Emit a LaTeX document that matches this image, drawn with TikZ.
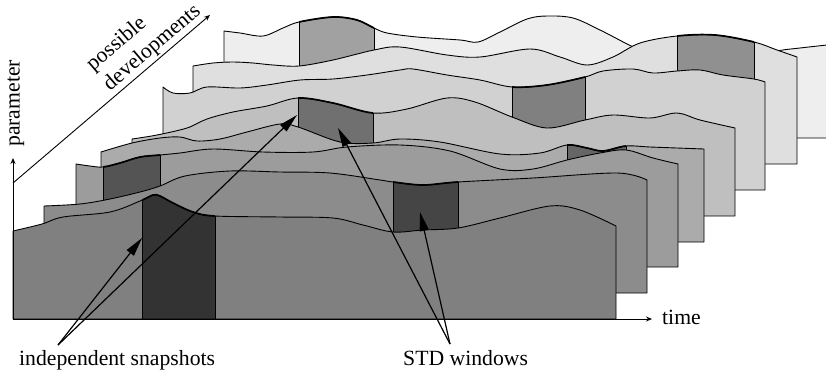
\documentclass[tikz,border=0pt]{standalone}
\usepackage{fontspec}
\setmainfont{Liberation Serif}
\usetikzlibrary{arrows.meta}
\definecolor{lay0}{gray}{0.50}
\definecolor{lay1}{gray}{0.55}
\definecolor{lay2}{gray}{0.61}
\definecolor{lay3}{gray}{0.67}
\definecolor{lay4}{gray}{0.75}
\definecolor{lay5}{gray}{0.82}
\definecolor{lay6}{gray}{0.875}
\definecolor{lay7}{gray}{0.935}
\definecolor{win0}{gray}{0.20}
\definecolor{win1}{gray}{0.27}
\definecolor{win2}{gray}{0.33}
\definecolor{win3}{gray}{0.40}
\definecolor{win4}{gray}{0.44}
\definecolor{win5}{gray}{0.50}
\definecolor{win6}{gray}{0.565}
\definecolor{win7}{gray}{0.63}
\newcommand{\drawlayer}[8]{%
  \fill[#5] plot[smooth,tension=0.55] coordinates {#1} -- (#2,#3) -- (#4,#3) -- cycle;
  \begin{scope}
    \clip plot[smooth,tension=0.55] coordinates {#1} -- (#2,#3) -- (#4,#3) -- cycle;
    \fill[#8] (#6,0) rectangle (#7,400);
    \draw[lyredge] (#6,0) -- (#6,400) (#7,0) -- (#7,400);
  \end{scope}
  \draw[lyredge] plot[smooth,tension=0.55] coordinates {#1} -- (#2,#3) -- (#4,#3) -- cycle;
  \begin{scope}
    \clip (#6,-10) rectangle (#7,400);
    \draw[wintop] plot[smooth,tension=0.55] coordinates {#1};
  \end{scope}
}
\begin{document}
\begin{tikzpicture}[x=1pt,y=-1pt,
  lyredge/.style={draw=black,line width=0.9pt,line join=round},
  wintop/.style={draw=black,line width=1.7pt},
  lbl/.style={font=\rmfamily\fontsize{21.7}{26}\selectfont,inner sep=0pt},
  axisline/.style={line width=0.9pt,-{Stealth[length=6pt,width=5pt]}},
  pointer/.style={line width=1.2pt,-{Triangle[length=19pt,width=9pt]}}]
\useasboundingbox (0,0) rectangle (826,373);
\begin{scope}
\clip (0,0) rectangle (826,373);
% layer 7 (back)
\drawlayer{(224,31) (240,33) (263,36) (283,28) (299,22) (333,17) (357,20) (374,28) (387,33) (417,37) (460,40) (478,42) (500,32) (527,19) (547,16) (573,18) (600,30) (633,47) (665,62) (705,66) (745,59) (777,51) (800,48) (827,45)}{827}{138}{224}{lay7}{299}{374}{win7}
% layer 6
\drawlayer{(193,66) (213,63) (233,62) (253,63) (273,65) (299,66) (333,60) (374,50) (400,47) (447,55) (480,57) (530,49) (560,57) (587,65) (613,57) (640,43) (677,36) (715,35) (754,42) (777,50) (797,57)}{797}{164}{193}{lay6}{677}{754}{win6}
% layer 5
\drawlayer{(163,87) (173,93) (190,93) (207,87) (240,88) (267,85) (300,80) (333,79) (367,75) (400,70) (413,69) (447,75) (480,80) (512,87) (547,85) (585,77) (603,71) (633,69) (653,73) (677,71) (700,70) (723,75) (754,79) (765,82)}{765}{190}{163}{lay5}{512}{585}{win5}
% layer 4
\drawlayer{(132,139) (157,135) (187,128) (207,119) (233,112) (267,106) (298,98) (333,103) (373,113) (407,109) (447,98) (475,102) (512,117) (547,128) (585,120) (613,115) (650,118) (677,113) (700,120) (735,128)}{735}{216}{132}{lay4}{298}{373}{win4}
% layer 3
\drawlayer{(101,152) (132,143) (160,138) (180,137) (197,141) (220,139) (247,132) (280,124) (298,127) (340,142) (373,143) (400,139) (440,142) (500,154) (540,153) (567,145) (587,148) (603,151) (626,146) (650,147) (677,148) (704,149)}{704}{242}{101}{lay3}{567}{626}{win3}
% layer 2
\drawlayer{(76,164) (90,166) (103,167) (120,163) (140,157) (160,155) (180,153) (213,149) (263,152) (313,152) (347,147) (400,145) (450,151) (500,169) (533,169) (567,160) (600,153) (626,150) (653,158) (678,164)}{678}{267}{76}{lay2}{103}{160}{win2}
% layer 1
\drawlayer{(44,206) (80,204) (110,199) (140,192) (160,186) (185,176) (230,171) (280,172) (330,173) (380,180) (393,182) (423,185) (458,182) (533,178) (617,173) (647,180)}{647}{293}{44}{lay1}{393}{458}{win1}
% layer 0 (front)
\drawlayer{(13,231) (42,224) (63,217) (110,212) (140,201) (153,195) (160,196) (173,203) (193,212) (215,216) (280,217) (333,218) (363,225) (393,232) (423,230) (458,228) (500,218) (550,206) (580,210) (616,226)}{616}{319}{13}{lay0}{142}{215}{win0}
\end{scope}
% axes
\coordinate (orig) at (13,319);
\coordinate (partop) at (13,158);
\coordinate (timeend) at (652,319);
\coordinate (diagstart) at (13,183);
\coordinate (diagend) at (210,15);
\draw[axisline] (orig) -- (partop);
\draw[axisline] (orig) -- (timeend);
\draw[axisline] (diagstart) -- (diagend);
% labels
\node[lbl,anchor=base west] (timelbl) at (662,324.5) {time};
\node[lbl,rotate=90,anchor=base west] (parlbl) at (19.7,147) {parameter};
\node[lbl,rotate=40.55,anchor=south west,align=left] (devlbl) at (113,95) {possible\\developments};
\node[lbl,anchor=base west] (snaplbl) at (19,365) {independent snapshots};
\node[lbl,anchor=base west] (stdlbl) at (403,365) {STD windows};
% pointers
\coordinate (snapfrom) at (58,345);
\coordinate (snaptipA) at (142,238);
\coordinate (snaptipB) at (297,115);
\coordinate (stdfrom) at (450,344);
\coordinate (stdtipA) at (420,212);
\coordinate (stdtipB) at (338,128);
\draw[pointer] (snapfrom) -- (snaptipA);
\draw[pointer] (snapfrom) -- (snaptipB);
\draw[pointer] (stdfrom) -- (stdtipA);
\draw[pointer] (stdfrom) -- (stdtipB);
\end{tikzpicture}
\end{document}
